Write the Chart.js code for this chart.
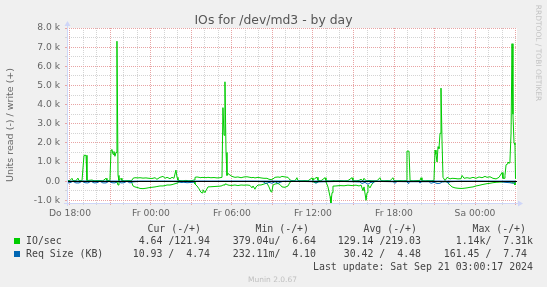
<!DOCTYPE html>
<html lang="de">
<head>
<meta charset="UTF-8" />
<title>IOs for /dev/md3 - by day</title>
<script src="https://cdn.jsdelivr.net/npm/chart.js"></script>
<style>
  body { margin: 0; background: #f0f0f0; }
  #wrap { position: relative; width: 547px; height: 287px; overflow: hidden; background: #f0f0f0;
          font-family: 'DejaVu Sans', sans-serif; color: #666; }
  #chart { position: absolute; left: 0; top: 0; }
  .t { position: absolute; white-space: pre; }
  .title { left: 0; width: 547px; top: 12px; text-align: center; font-size: 12.4px; line-height: 16px; color: #555; }
  .ylab { left: -70px; top: 119px; width: 160px; text-align: center; font-size: 9.5px; line-height: 12px;
          transform: rotate(-90deg); }
  .wm { left: 478px; top: 48px; width: 120px; text-align: center; font-size: 7.5px; line-height: 10px;
        color: #c4c4c4; transform: rotate(90deg); }
  .leg { font-family: 'DejaVu Sans Mono', monospace; font-size: 9.9px; line-height: 12px; color: #444; }
  .sq { position: absolute; width: 6px; height: 6px; }
  .foot { left: 0; width: 545px; top: 275px; text-align: center; font-size: 7.5px; line-height: 10px; color: #c0c0c0; }
</style>
</head>
<body>
<div id="wrap">
  <canvas id="chart" width="547" height="287"></canvas>

  <div class="t title">IOs for /dev/md3 - by day</div>
  <div class="t ylab">Units read (-) / write (+)</div>
  <div class="t wm">RRDTOOL / TOBI OETIKER</div>

  <div class="t leg" style="top:223px; right:346px">Cur (-/+)</div>
  <div class="t leg" style="top:223px; right:238px">Min (-/+)</div>
  <div class="t leg" style="top:223px; right:130px">Avg (-/+)</div>
  <div class="t leg" style="top:223px; right:21px">Max (-/+)</div>

  <div class="sq" style="left:14px; top:238px; background:#00cc00"></div>
  <div class="t leg" style="top:235px; left:26px">IO/sec</div>
  <div class="t leg" style="top:235px; right:337px">4.64 /121.94</div>
  <div class="t leg" style="top:235px; right:231px">379.04u/  6.64</div>
  <div class="t leg" style="top:235px; right:126px">129.14 /219.03</div>
  <div class="t leg" style="top:235px; right:14px">1.14k/  7.31k</div>

  <div class="sq" style="left:14px; top:251px; background:#0066b3"></div>
  <div class="t leg" style="top:248px; left:26px">Req Size (KB)</div>
  <div class="t leg" style="top:248px; right:337px">10.93 /  4.74</div>
  <div class="t leg" style="top:248px; right:231px">232.11m/  4.10</div>
  <div class="t leg" style="top:248px; right:126px">30.42 /  4.48</div>
  <div class="t leg" style="top:248px; right:20px">161.45 /  7.74</div>

  <div class="t leg" style="top:261px; right:14px">Last update: Sat Sep 21 03:00:17 2024</div>
  <div class="t foot">Munin 2.0.67</div>
</div>

<script>
  // hours after Do 18:00
  const ioT = [
    -0.22, 0, 0.15, 0.22, 0.44, 0.59, 0.67, 0.89, 1.04, 1.19, 1.26, 1.63, 1.78, 2.15, 2.44, 2.67, 2.74, 2.96, 3.04, 3.11,
    3.19, 3.26, 3.33, 3.41, 3.48, 3.56, 3.63, 3.78, 3.85, 4.07, 4.30, 4.52,
    4.59, 4.67, 4.81, 5.04, 5.19, 5.41, 5.63, 5.85, 6.07, 6.30, 6.44, 6.67, 6.89, 7.04, 7.19, 7.41, 7.56, 7.70, 7.85, 7.93, 8.00,
    8.15, 8.37, 8.59, 8.81, 9.04, 9.19,
    9.26, 9.41, 9.56, 9.70, 9.78, 9.85, 10.00, 10.07, 10.22, 10.44, 10.67, 10.89, 11.11, 11.26,
    11.33, 11.41, 11.48, 11.56, 11.63, 11.70, 11.85, 12.00, 12.22, 12.44, 12.67, 12.89, 13.11, 13.33, 13.48, 13.56, 13.70,
    13.78, 13.93, 14.15, 14.37, 14.59, 14.74, 14.89, 14.96, 15.04, 15.19, 15.41, 15.56, 15.70, 15.93, 16.15, 16.30, 16.44,
    16.67, 16.81, 16.89, 17.11, 17.41, 17.63, 17.93, 18.00, 18.15, 18.30, 18.37, 18.59, 18.89, 18.96, 19.11, 19.26, 19.33,
    19.41, 19.48, 19.70, 20.00, 20.30, 20.59, 20.89, 20.96, 21.19, 21.41, 21.56, 21.70, 21.78, 21.93, 22.00, 22.07, 22.22,
    22.37, 22.52, 22.74, 22.96, 23.04, 23.26, 23.48, 23.70, 23.93, 24.00, 24.22, 24.44, 24.67,
    24.89, 24.96, 25.11, 25.19, 25.41, 25.63, 25.93, 26.00, 26.07, 26.30, 26.52, 26.74, 26.96, 27.04, 27.11, 27.19, 27.26,
    27.33, 27.41, 27.48, 27.56, 27.63, 27.78, 27.93, 28.07,
    28.15, 28.30, 28.52, 28.74, 28.96, 29.04, 29.19, 29.41, 29.63, 29.85, 30.07, 30.30, 30.52, 30.74, 30.89, 31.11, 31.33,
    31.56, 31.78, 32.00, 32.07,
    32.15, 32.22, 32.30, 32.37, 32.44, 32.52, 32.59, 32.67, 32.74, 32.81, 32.89, 32.96, 33.00
  ];
  const ioWrite = [
    30, 40, 150, 30, 20, 160, 30, 20, 1350, 1350, 30, 60, 20, 30, 20, 150, 30, 40, 1620, 1650,
    1400, 1550, 1300, 1500, 7310, 300, 30, 150, 30, 20, 30, 20,
    50, 150, 180, 170, 180, 160, 170, 150, 140, 180, 100, 200, 250, 150, 200, 130, 200, 150, 580, 200, 50,
    30, 20, 40, 20, 30, 60,
    200, 220, 200, 180, 200, 190, 200, 180, 200, 180, 190, 170, 180, 200,
    3840, 2400, 5190, 1500, 300, 400, 320, 250, 200, 220, 180, 220, 230, 200, 180, 200, 170,
    180, 200, 170, 150, 150, 100, 80, 100, 120, 200, 220, 200, 250, 220, 200, 60, 30,
    20, 180, 30, 20, 30, 20, 170, 40, 150, 200, 40, 20, 180, 30, 20, 10, 10,
    20, 30, 20, 30, 20, 30, 180, 30, 20, 40, 100, 20, 150, 20, 30, 40, 30,
    20, 20, 20, 180, 30, 20, 30, 20, 180, 30, 20, 30, 20,
    30, 1570, 1570, 30, 20, 30, 40, 180, 30, 20, 30, 20, 40, 1620, 1400, 1000, 1800,
    1700, 2500, 4860, 2000, 200, 30, 200, 150,
    120, 150, 140, 120, 130, 300, 150, 180, 150, 200, 150, 220, 180, 250, 200, 230, 150,
    120, 200, 450, 150,
    150, 300, 850, 900, 1000, 950, 1100, 2500, 7180, 3500, 2000, 1900, 121.94
  ];
  const ioRead = [
    10, 5, 10, 10, 5, 10, 10, 5, 10, 10, 10, 5, 5, 10, 10, 10, 10, 10, 20, 20,
    20, 30, 30, 50, 30, 200, 30, 10, 10, 10, 10, 10,
    100, 250, 300, 340, 380, 390, 370, 340, 320, 300, 280, 250, 250, 230, 200, 200, 180, 150, 120, 100, 60,
    20, 10, 20, 10, 20, 40,
    150, 250, 400, 580, 610, 450, 600, 500, 300, 290, 280, 270, 260, 240,
    200, 200, 150, 150, 150, 200, 220, 220, 200, 230, 200, 210, 200, 220, 350, 250, 420,
    300, 200, 200, 150, 100, 300, 560, 540, 200, 150, 120, 180, 300, 320, 250, 50, 10,
    10, 10, 10, 10, 10, 10, 20, 30, 80, 60, 20, 10, 20, 30, 300, 800, 1140,
    600, 260, 250, 230, 240, 210, 230, 220, 210, 250, 200, 500, 300, 1000, 600, 200, 350,
    150, 30, 10, 10, 10, 20, 10, 10, 20, 20, 10, 10, 10,
    10, 20, 20, 10, 10, 10, 20, 10, 10, 10, 10, 20, 20, 20, 20, 30, 20,
    20, 20, 30, 20, 30, 10, 50, 150,
    200, 300, 350, 370, 380, 380, 370, 350, 320, 300, 250, 220, 180, 150, 130, 110, 80,
    60, 50, 40, 30,
    30, 20, 20, 30, 30, 30, 50, 50, 50, 50, 100, 200, 4.64
  ];

  const reqT = [
    -0.22, 0, 0.22, 0.44, 0.67, 0.89, 1.11, 1.33, 1.56, 1.78, 2.00, 2.22, 2.44, 2.67, 2.89, 3.11, 3.33, 3.56, 3.78, 4.00,
    4.22, 4.44, 4.67, 5.19, 5.93, 6.67, 7.41, 8.00, 8.22, 8.44, 8.67, 8.89, 9.11, 9.33, 10.37, 11.48, 12.59, 13.70, 14.30, 14.52,
    14.74, 14.96, 15.19, 15.41, 15.56, 15.78, 17.04, 18.07, 18.22, 18.37, 20.00, 21.48, 21.63, 21.85, 22.07, 22.30, 22.44, 22.59, 23.93, 24.07,
    24.22, 24.96, 25.04, 25.11, 25.85, 25.93, 26.00, 26.59, 26.74, 26.96, 27.19, 27.41, 27.56, 27.93, 28.00, 28.07, 28.89, 30.37, 31.85, 32.22,
    32.59, 32.81, 32.96, 33.00
  ];
  const reqRead = [
    90, 80, 10, 90, 90, 10, 80, 90, 10, 90, 80, 10, 90, 90, 10, 80, 90, 10, 90, 80,
    10, 90, 40, 10, 10, 10, 10, 30, 70, 60, 80, 70, 60, 10, 10, 10, 10, 10, 30, 120,
    60, 110, 30, 110, 60, 10, 10, 30, 110, 40, 10, 40, 120, 60, 161.45, 50, 100, 10, 30, 110,
    20, 30, 110, 30, 30, 100, 30, 30, 110, 60, 120, 110, 40, 30, 100, 30, 10, 10, 20, 60,
    80, 110, 60, 10.93
  ];
  const reqWrite = [
    5, 4, 6, 5, 4, 5, 6, 4, 5, 5, 4, 6, 5, 4, 5, 7, 5, 4, 5, 6,
    4, 5, 4, 5, 4, 5, 4, 5, 6, 4, 5, 4, 6, 5, 4, 5, 4, 4, 5, 6,
    4, 5, 7, 5, 4, 4, 5, 4, 6, 5, 4, 5, 6, 7.74, 6, 5, 4, 5, 4, 6,
    4, 5, 6, 4, 4, 5, 4, 5, 6, 5, 5, 6, 4, 4, 5, 4, 4, 5, 4, 5,
    5, 4, 5, 4.74
  ];

  const xTickHours = [0, 6, 12, 18, 24, 30];
  const xTickLabels = ['Do 18:00', 'Fr 00:00', 'Fr 06:00', 'Fr 12:00', 'Fr 18:00', 'Sa 00:00'];
  const yTickValues = [-1000, 0, 1000, 2000, 3000, 4000, 5000, 6000, 7000, 8000];
  const yTickLabels = ['-1.0 k', '0.0', '1.0 k', '2.0 k', '3.0 k', '4.0 k', '5.0 k', '6.0 k', '7.0 k', '8.0 k'];

  // grid: one line per hour, one per 500
  const xGrid = [], yGrid = [];
  for (let h = 0; h <= 33; h++) xGrid.push(h);
  for (let v = -1000; v <= 8000; v += 500) yGrid.push(v);

  const GREEN = '#00cc00', BLUE = '#0066b3';
  const MAJOR = '#e8a4a4', MINOR = '#d4d4d4', AXIS = '#cfd6f8';

  const pts = (t, v, s) => t.map((h, i) => ({ x: h, y: s * v[i] }));
  const line = (data, color, order) => ({
    data, borderColor: color, borderWidth: 1, pointRadius: 0, fill: false,
    tension: 0, borderJoinStyle: 'round', order
  });

  const muninFrame = {
    id: 'muninFrame',
    beforeDraw(c) {
      const a = c.chartArea, ctx = c.ctx;
      ctx.save();
      ctx.fillStyle = '#fff';
      ctx.fillRect(a.left, a.top, a.right - a.left, a.bottom - a.top);
      ctx.restore();
    },
    afterDatasetsDraw(c) {
      const a = c.chartArea, ctx = c.ctx;
      const y0 = Math.round(c.scales.y.getPixelForValue(0)) + 0.5;
      ctx.save();
      ctx.lineWidth = 1;
      ctx.strokeStyle = '#000';
      ctx.beginPath(); ctx.moveTo(a.left, y0); ctx.lineTo(a.right, y0); ctx.stroke();

      ctx.strokeStyle = ctx.fillStyle = AXIS;
      const ax = a.left + 0.5, by = Math.round(a.bottom) + 0.5;
      ctx.beginPath();
      ctx.moveTo(ax, a.bottom + 3); ctx.lineTo(ax, a.top - 3);
      ctx.moveTo(a.left - 3, by); ctx.lineTo(a.right + 2, by);
      ctx.stroke();
      ctx.beginPath();
      ctx.moveTo(ax - 3, a.top - 2); ctx.lineTo(ax + 3, a.top - 2); ctx.lineTo(ax, a.top - 7); ctx.closePath(); ctx.fill();
      ctx.beginPath();
      ctx.moveTo(a.right + 1, by - 3); ctx.lineTo(a.right + 1, by + 3); ctx.lineTo(a.right + 6, by); ctx.closePath(); ctx.fill();
      ctx.restore();
    }
  };

  Chart.defaults.font.family = "'DejaVu Sans', sans-serif";

  new Chart(document.getElementById('chart'), {
    type: 'line',
    data: {
      datasets: [
        line(pts(reqT, reqWrite, 1), BLUE, 0),
        line(pts(reqT, reqRead, -1), BLUE, 1),
        line(pts(ioT, ioWrite, 1), GREEN, 2),
        line(pts(ioT, ioRead, -1), GREEN, 3)
      ]
    },
    options: {
      responsive: false,
      animation: false,
      layout: { padding: { left: 0, right: 30, top: 28, bottom: 0 } },
      plugins: { legend: { display: false }, tooltip: { enabled: false } },
      scales: {
        x: {
          type: 'linear', min: -0.22, max: 33.11,
          afterFit: s => { s.height = 84; },
          afterBuildTicks: s => { s.ticks = xGrid.map(v => ({ value: v })); },
          border: { display: false, dash: [1, 1] },
          grid: {
            color: c => (c.tick.value % 3 === 0 ? MAJOR : MINOR),
            tickColor: c => (c.tick.value % 3 === 0 ? MAJOR : MINOR),
            tickLength: 2, lineWidth: 1
          },
          ticks: {
            autoSkip: false, maxRotation: 0, minRotation: 0,
            padding: 3, color: '#666', font: { size: 9.2 },
            callback: v => { const i = xTickHours.indexOf(v); return i >= 0 ? xTickLabels[i] : ''; }
          }
        },
        y: {
          min: -1140, max: 8000,
          afterFit: s => { s.width = 67; },
          afterBuildTicks: s => { s.ticks = yGrid.map(v => ({ value: v })); },
          border: { display: false, dash: [1, 1] },
          grid: {
            color: c => (c.tick.value % 1000 === 0 ? MAJOR : MINOR),
            tickColor: c => (c.tick.value % 1000 === 0 ? MAJOR : MINOR),
            tickLength: 2, lineWidth: 1
          },
          ticks: {
            autoSkip: false,
            padding: 5, color: '#666', font: { size: 9.2 },
            callback: v => { const i = yTickValues.indexOf(v); return i >= 0 ? yTickLabels[i] : ''; }
          }
        }
      }
    },
    plugins: [muninFrame]
  });
</script>
</body>
</html>
